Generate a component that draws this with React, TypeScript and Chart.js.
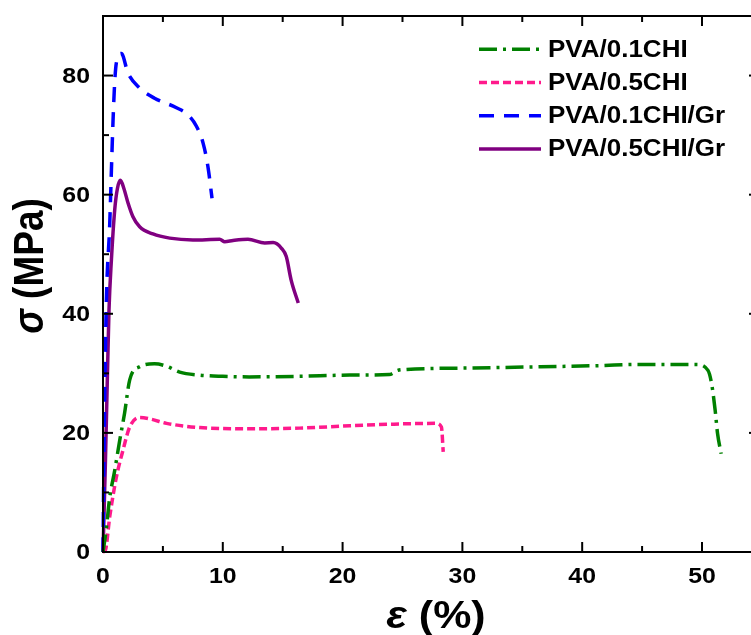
import React, { useEffect, useRef } from "react";
import { Chart, registerables } from "chart.js";

Chart.register(...registerables);

// ---- data (strain %, stress MPa) ----
const labels = ["PVA/0.1CHI", "PVA/0.5CHI", "PVA/0.1CHI/Gr", "PVA/0.5CHI/Gr"];

const strain01 = [0, 0.15, 0.28, 0.55, 0.98, 1.4, 1.8, 2.23, 3.06, 4.3, 5.3, 6.4, 8.07, 10, 12.2, 16.4, 20.6, 23.9, 24.6, 25.3, 30.9, 36.5, 41.5, 44.5, 49.5, 50.5, 50.8, 51.1, 51.3, 51.6];
const stress01 = [0, 2, 4, 9, 13.7, 18.8, 23.3, 28.9, 31.1, 31.6, 31.2, 30.2, 29.7, 29.5, 29.4, 29.5, 29.7, 29.8, 30.5, 30.65, 30.9, 31.1, 31.3, 31.5, 31.5, 30.5, 28.3, 23.8, 19.9, 16.5];

const strain05 = [0, 0.2, 0.56, 1.12, 1.67, 2.23, 3.06, 4.0, 5.3, 8.07, 12.2, 16.4, 20.6, 23.9, 27.8, 28.25, 28.4];
const stress05 = [0, 0.3, 5.9, 12.6, 17.1, 21, 22.6, 22.3, 21.6, 20.9, 20.7, 20.8, 21.2, 21.45, 21.6, 21.0, 16.8];

const strain01Gr = [0, 0.1, 0.28, 0.56, 0.7, 0.83, 0.98, 1.12, 1.53, 2.09, 3.06, 4.3, 6.13, 7.1, 7.8, 8.35, 8.76, 9.1];
const stress01Gr = [0, 20, 42, 55, 64, 72, 79, 82.2, 83.7, 80.4, 77.9, 76.2, 74.6, 73.4, 71.5, 68.7, 64.7, 59.4];

const strain05Gr = [0, 0.2, 0.35, 0.5, 0.7, 0.98, 1.2, 1.45, 1.75, 2.09, 2.5, 3.06, 4.17, 5.57, 7.5, 9.74, 10.16, 10.85, 12.1, 13.5, 14.2, 14.9, 15.3, 15.7, 16.3];
const stress05Gr = [0, 15, 28, 40.6, 49, 57.5, 61, 62.4, 61, 58.6, 56.3, 54.6, 53.4, 52.7, 52.4, 52.5, 52.1, 52.3, 52.5, 51.9, 51.95, 51.0, 49.6, 45.7, 41.8];

const xMajorTicks = [0, 10, 20, 30, 40, 50];
const xMinorTicks = [5, 15, 25, 35, 45];
const yMajorTicks = [0, 20, 40, 60, 80];
const yMinorTicks = [10, 30, 50, 70];

const colors = ["#008000", "#ff1a8c", "#0000ff", "#800080"];
const dashes: number[][] = [[18, 6, 3, 6], [8, 4], [15, 10], []];

const toPts = (xs: number[], ys: number[]) => xs.map((x, i) => ({ x, y: ys[i] }));

const FONT = 'Arial, "Liberation Sans", sans-serif';
const SX = 1.13;

function txt(ctx: CanvasRenderingContext2D, s: string, x: number, y: number, align: CanvasTextAlign, base: CanvasTextBaseline) {
  ctx.save();
  ctx.translate(x, y);
  ctx.scale(SX, 1);
  ctx.textAlign = align;
  ctx.textBaseline = base;
  ctx.fillText(s, 0, 0);
  ctx.restore();
}

const framePlugin = {
  id: "frame",
  afterDatasetsDraw(chart: any) {
    const ctx: CanvasRenderingContext2D = chart.ctx;
    const ax = chart.scales.x;
    const ay = chart.scales.y;
    const { left, right, top, bottom } = chart.chartArea;
    ctx.save();
    ctx.strokeStyle = "#000";
    ctx.fillStyle = "#000";
    ctx.lineWidth = 2;
    ctx.strokeRect(left, top, right - left, bottom - top);
    const tick = (x1: number, y1: number, x2: number, y2: number) => {
      ctx.beginPath();
      ctx.moveTo(x1, y1);
      ctx.lineTo(x2, y2);
      ctx.stroke();
    };
    xMajorTicks.forEach((v) => {
      const p = ax.getPixelForValue(v);
      tick(p, bottom, p, bottom - 10);
      tick(p, top, p, top + 10);
    });
    xMinorTicks.forEach((v) => {
      const p = ax.getPixelForValue(v);
      tick(p, bottom, p, bottom - 6);
      tick(p, top, p, top + 6);
    });
    yMajorTicks.forEach((v) => {
      const p = ay.getPixelForValue(v);
      tick(left, p, left + 10, p);
      tick(right, p, right - 10, p);
    });
    yMinorTicks.forEach((v) => {
      const p = ay.getPixelForValue(v);
      tick(left, p, left + 6, p);
      tick(right, p, right - 6, p);
    });

    ctx.font = `bold 22px ${FONT}`;
    xMajorTicks.forEach((v) => {
      txt(ctx, String(v), ax.getPixelForValue(v), bottom + 14, "center", "top");
    });
    yMajorTicks.forEach((v) => {
      txt(ctx, String(v), left - 13, ay.getPixelForValue(v) + 1, "right", "middle");
    });

    // x title
    const cx = 436;
    const TF = 38;
    ctx.font = `italic bold ${TF}px ${FONT}`;
    const w1 = ctx.measureText("ε").width * SX;
    ctx.font = `bold ${TF}px ${FONT}`;
    const w2 = ctx.measureText(" (%)").width * SX;
    const sx0 = cx - (w1 + w2) / 2;
    ctx.font = `italic bold ${TF}px ${FONT}`;
    txt(ctx, "ε", sx0, 628, "left", "alphabetic");
    ctx.font = `bold ${TF}px ${FONT}`;
    txt(ctx, " (%)", sx0 + w1, 628, "left", "alphabetic");

    // y title (rotated)
    const YF = 37;
    ctx.save();
    ctx.translate(43, 266);
    ctx.rotate(-Math.PI / 2);
    ctx.scale(1, SX);
    ctx.font = `italic bold ${YF}px ${FONT}`;
    const v1 = ctx.measureText("σ").width;
    ctx.font = `bold ${YF}px ${FONT}`;
    const v2 = ctx.measureText(" (MPa)").width;
    const s0 = -(v1 + v2) / 2;
    ctx.textBaseline = "alphabetic";
    ctx.textAlign = "left";
    ctx.font = `italic bold ${YF}px ${FONT}`;
    ctx.fillText("σ", s0, 0);
    ctx.font = `bold ${YF}px ${FONT}`;
    ctx.fillText(" (MPa)", s0 + v1, 0);
    ctx.restore();

    // legend
    chart.data.datasets.forEach((ds: any, i: number) => {
      const y = 49.3 + i * 33.2;
      ctx.save();
      ctx.strokeStyle = ds.borderColor;
      ctx.lineWidth = 3.5;
      ctx.setLineDash(ds.borderDash || []);
      ctx.beginPath();
      ctx.moveTo(479, y);
      ctx.lineTo(541, y);
      ctx.stroke();
      ctx.restore();
      ctx.font = `bold 23px ${FONT}`;
      txt(ctx, ds.label, 548, y + 1, "left", "middle");
    });
    ctx.restore();
  },
};

export default function App() {
  const ref = useRef<HTMLCanvasElement | null>(null);
  useEffect(() => {
    if (!ref.current) return;
    const series = [
      toPts(strain01, stress01),
      toPts(strain05, stress05),
      toPts(strain01Gr, stress01Gr),
      toPts(strain05Gr, stress05Gr),
    ];
    const chart = new Chart(ref.current, {
      type: "scatter",
      data: {
        datasets: series.map((d, i) => ({
          label: labels[i],
          data: d,
          showLine: true,
          borderColor: colors[i],
          backgroundColor: colors[i],
          borderWidth: 3.5,
          borderDash: dashes[i],
          pointRadius: 0,
          cubicInterpolationMode: "monotone",
          clip: 6,
        })),
      },
      options: {
        animation: false,
        responsive: false,
        maintainAspectRatio: false,
        layout: { padding: { left: 103, top: 16, right: 6, bottom: 83 } },
        plugins: { legend: { display: false }, tooltip: { enabled: false } },
        scales: {
          x: { type: "linear", min: 0, max: 54.76, display: false },
          y: { type: "linear", min: 0, max: 90, display: false },
        },
      },
      plugins: [framePlugin],
    } as any);
    return () => chart.destroy();
  }, []);
  return (
    <div style={{ position: "fixed", left: 0, top: 0, width: 751, height: 635, overflow: "hidden", background: "#fff" }}>
      <canvas ref={ref} width={765} height={635} style={{ display: "block", width: 765, height: 635 }} />
    </div>
  );
}
